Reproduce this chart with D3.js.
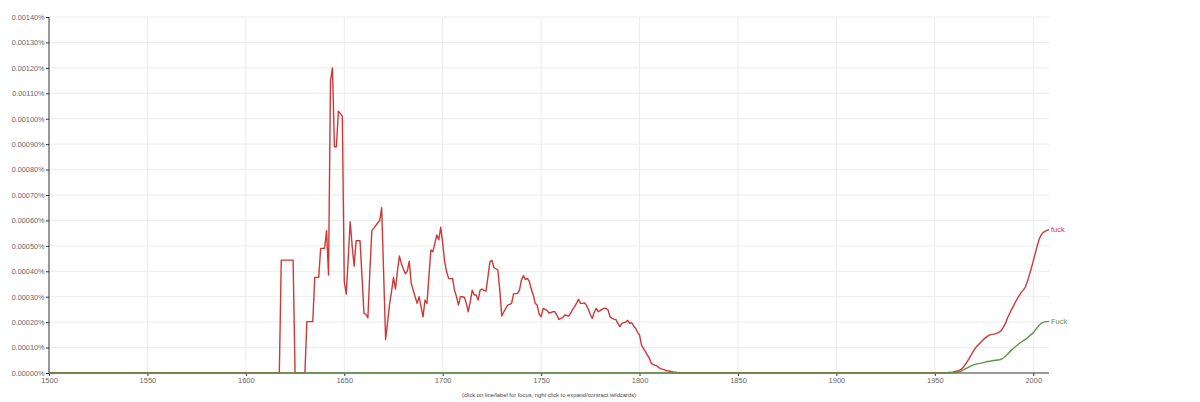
<!DOCTYPE html>
<html>
<head>
<meta charset="utf-8">
<script src="https://cdn.jsdelivr.net/npm/d3@7"></script>
<style>
  html, body { margin: 0; padding: 0; background: #fff; overflow: hidden; }
  svg { display: block; font-family: "Liberation Sans", Arial, sans-serif; }
  .grid line { stroke: #ececec; }
  .axis path, .axis line { stroke: #333; }
  .axis text { fill: #666; }
</style>
</head>
<body>
<svg width="1200" height="402"></svg>
<script>
// [year, percent] points, annual where the curve moves
const fuckPoints = [
  [1500, 0], [1617, 0], [1618, 0.000444], [1624, 0.000444], [1625, 0], [1630, 0],
  [1631, 0.000202], [1634, 0.000202], [1635, 0.000376], [1637, 0.000376], [1638, 0.00049],
  [1640, 0.00049], [1641, 0.00056], [1642, 0.000385], [1643, 0.00115], [1644, 0.0012],
  [1645, 0.00089], [1646, 0.00089], [1647, 0.00103], [1648, 0.00102], [1649, 0.00101],
  [1650, 0.00036], [1651, 0.00031], [1652, 0.00045], [1653, 0.000595], [1654, 0.0005],
  [1655, 0.00042], [1656, 0.00052], [1657, 0.00052], [1658, 0.00052], [1659, 0.00038],
  [1660, 0.000235], [1661, 0.00023], [1662, 0.000217], [1663, 0.0004], [1664, 0.00056],
  [1665, 0.00057], [1666, 0.00058], [1667, 0.00059], [1668, 0.0006], [1669, 0.00065],
  [1670, 0.00039], [1671, 0.000132], [1672, 0.0002], [1673, 0.00027], [1674, 0.00032],
  [1675, 0.000376], [1676, 0.00033], [1677, 0.0004], [1678, 0.00046], [1679, 0.00043],
  [1680, 0.00041], [1681, 0.00039], [1682, 0.0004], [1683, 0.00044], [1684, 0.000353],
  [1685, 0.000326], [1686, 0.0003], [1687, 0.000274], [1688, 0.0003], [1689, 0.00026],
  [1690, 0.000221], [1691, 0.000287], [1692, 0.000274], [1693, 0.00038], [1694, 0.000484],
  [1695, 0.000477], [1696, 0.00051], [1697, 0.000543], [1698, 0.000524], [1699, 0.000573],
  [1700, 0.00051], [1701, 0.000438], [1702, 0.000398], [1703, 0.000372], [1704, 0.00037],
  [1705, 0.000372], [1706, 0.000326], [1707, 0.0003], [1708, 0.000267], [1709, 0.0003],
  [1710, 0.0003], [1711, 0.000298], [1712, 0.000274], [1713, 0.000241], [1714, 0.00028],
  [1715, 0.000326], [1716, 0.000307], [1717, 0.000307], [1718, 0.000287], [1719, 0.000326],
  [1720, 0.00033], [1721, 0.000325], [1722, 0.000322], [1723, 0.000379], [1724, 0.000438],
  [1725, 0.000443], [1726, 0.000415], [1727, 0.00041], [1728, 0.000405], [1729, 0.000326],
  [1730, 0.000224], [1731, 0.00024], [1732, 0.000254], [1733, 0.000267], [1734, 0.00027],
  [1735, 0.000274], [1736, 0.000311], [1737, 0.000312], [1738, 0.000313], [1739, 0.000326],
  [1740, 0.000366], [1741, 0.000383], [1742, 0.000368], [1743, 0.000372], [1744, 0.00036],
  [1745, 0.00033], [1746, 0.000307], [1747, 0.000274], [1748, 0.000267], [1749, 0.000232],
  [1750, 0.000221], [1751, 0.000254], [1752, 0.00025], [1753, 0.000246], [1754, 0.000236],
  [1755, 0.000238], [1756, 0.000241], [1757, 0.000241], [1758, 0.000228], [1759, 0.000211],
  [1760, 0.000215], [1761, 0.000218], [1762, 0.000228], [1763, 0.000226], [1764, 0.000224],
  [1765, 0.000235], [1766, 0.00025], [1767, 0.000261], [1768, 0.000275], [1769, 0.00029],
  [1770, 0.000274], [1771, 0.000274], [1772, 0.000276], [1773, 0.000267], [1774, 0.00025],
  [1775, 0.00023], [1776, 0.000215], [1777, 0.00024], [1778, 0.000254], [1779, 0.000241],
  [1780, 0.000245], [1781, 0.00025], [1782, 0.000254], [1783, 0.000255], [1784, 0.000248],
  [1785, 0.000221], [1786, 0.000215], [1787, 0.000212], [1788, 0.00021], [1789, 0.000195],
  [1790, 0.000182], [1791, 0.000195], [1792, 0.000198], [1793, 0.0002], [1794, 0.000207],
  [1795, 0.000195], [1796, 0.000198], [1797, 0.000185], [1798, 0.000176], [1799, 0.00016],
  [1800, 0.000149], [1801, 0.00011], [1802, 0.000097], [1803, 0.000084], [1804, 0.00007],
  [1805, 0.000058], [1806, 0.000038], [1807, 0.000033], [1808, 0.00003], [1809, 0.000027],
  [1810, 0.00002], [1811, 0.000016], [1812, 0.000014], [1813, 0.000011], [1814, 0.000009],
  [1815, 0.000008], [1816, 0.000006], [1817, 0.000004], [1818, 0.000003], [1819, 0.000002],
  [1820, 0.000001], [1825, 0], [1955, 0], [1956, 0.000001], [1957, 0.000002],
  [1958, 0.000002], [1959, 0.000003], [1960, 0.000005], [1961, 0.000007], [1962, 0.000009],
  [1963, 0.000012], [1964, 0.000019], [1965, 0.000028], [1966, 0.00004], [1967, 0.000052],
  [1968, 0.000064], [1969, 0.000078], [1970, 0.000091], [1971, 0.000102], [1972, 0.00011],
  [1973, 0.000118], [1974, 0.000126], [1975, 0.000134], [1976, 0.00014], [1977, 0.000146],
  [1978, 0.00015], [1979, 0.000152], [1980, 0.000153], [1981, 0.000155], [1982, 0.000158],
  [1983, 0.000162], [1984, 0.00017], [1985, 0.000182], [1986, 0.000198], [1987, 0.000218],
  [1988, 0.000234], [1989, 0.00025], [1990, 0.000264], [1991, 0.00028], [1992, 0.000294],
  [1993, 0.000306], [1994, 0.000318], [1995, 0.000327], [1996, 0.000338], [1997, 0.00036],
  [1998, 0.000385], [1999, 0.000412], [2000, 0.00044], [2001, 0.00047], [2002, 0.0005],
  [2003, 0.000526], [2004, 0.000543], [2005, 0.000552], [2006, 0.000557], [2007, 0.000561],
  [2008, 0.000564]
];

const FuckPoints = [
  [1500, 0], [1955, 0], [1958, 0.000001], [1960, 0.000002], [1961, 0.000003],
  [1962, 0.000004], [1963, 0.000005], [1964, 0.00001], [1965, 0.000014], [1966, 0.000018],
  [1967, 0.000022], [1968, 0.000026], [1969, 0.00003], [1970, 0.000033], [1971, 0.000035],
  [1972, 0.000037], [1973, 0.000038], [1974, 0.00004], [1975, 0.000042], [1976, 0.000044],
  [1977, 0.000045], [1978, 0.000046], [1979, 0.000048], [1980, 0.000049], [1981, 0.00005],
  [1982, 0.000051], [1983, 0.000052], [1984, 0.000055], [1985, 0.00006], [1986, 0.000067],
  [1987, 0.000075], [1988, 0.000083], [1989, 0.00009], [1990, 0.000097], [1991, 0.000104],
  [1992, 0.00011], [1993, 0.000117], [1994, 0.000122], [1995, 0.000127], [1996, 0.000132],
  [1997, 0.000138], [1998, 0.000145], [1999, 0.000152], [2000, 0.000158], [2001, 0.000168],
  [2002, 0.000178], [2003, 0.000188], [2004, 0.000195], [2005, 0.000199], [2006, 0.000201],
  [2007, 0.000202], [2008, 0.000203]
];

const seriesNames = ['fuck', 'Fuck'];
const seriesColors = ['#cf3838', '#62924a'];
const yearTicks = [1500, 1550, 1600, 1650, 1700, 1750, 1800, 1850, 1900, 1950, 2000];
const valueTicks = d3.range(0, 15).map(i => i * 0.0001);
const footer = '(click on line/label for focus, right click to expand/contract wildcards)';

const series = [fuckPoints, FuckPoints].map((pts, i) => ({
  name: seriesNames[i], color: seriesColors[i], points: pts
}));

const margin = { left: 49, right: 151, top: 17, bottom: 29 };
const svg = d3.select('svg');
const width = +svg.attr('width');
const height = +svg.attr('height');
const innerWidth = width - margin.left - margin.right;
const innerHeight = height - margin.top - margin.bottom;

const x = d3.scaleLinear().domain([1500, 2008]).range([0, innerWidth]);
const y = d3.scaleLinear().domain([0, 0.0014]).range([innerHeight, 0]);

const g = svg.append('g')
    .attr('transform', `translate(${margin.left},${margin.top})`);

// gridlines
const grid = g.append('g').attr('class', 'grid');
grid.selectAll('line.h').data(valueTicks.slice(1))
  .enter().append('line')
    .attr('class', 'h')
    .attr('x1', 0).attr('x2', innerWidth)
    .attr('y1', d => y(d)).attr('y2', d => y(d));
grid.selectAll('line.v').data(yearTicks.slice(1))
  .enter().append('line')
    .attr('class', 'v')
    .attr('x1', d => x(d)).attr('x2', d => x(d))
    .attr('y1', 0).attr('y2', innerHeight);

const fontFamily = '"Liberation Sans", Arial, sans-serif';

g.append('g').attr('class', 'axis')
    .call(d3.axisLeft(y).tickValues(valueTicks).tickSize(3).tickPadding(1.5)
      .tickFormat(d => d3.format('.5f')(d) + '%'))
    .attr('font-size', 7.3)
    .attr('font-family', fontFamily)
    .call(s => s.select('.domain').attr('d', `M0,${innerHeight}V0`));

g.append('g').attr('class', 'axis')
    .attr('transform', `translate(0,${innerHeight})`)
    .call(d3.axisBottom(x).tickValues(yearTicks).tickSize(3).tickPadding(2)
      .tickFormat(d3.format('d')))
    .attr('font-size', 7.5)
    .attr('font-family', fontFamily)
    .call(s => s.select('.domain').attr('d', `M0,0H${innerWidth}`));

const line = d3.line().x(d => x(d[0])).y(d => y(d[1]));

g.selectAll('path.series').data(series)
  .enter().append('path')
    .attr('class', 'series')
    .attr('fill', 'none')
    .attr('stroke', d => d.color)
    .attr('stroke-width', 1.4)
    .attr('stroke-linejoin', 'round')
    .attr('d', d => line(d.points));

g.selectAll('text.label').data(series)
  .enter().append('text')
    .attr('class', 'label')
    .attr('x', d => x(d.points[d.points.length - 1][0]) + 2)
    .attr('y', d => y(d.points[d.points.length - 1][1]))
    .attr('dy', '0.35em')
    .attr('fill', d => d.color)
    .attr('font-size', 7.5)
    .text(d => d.name);

svg.append('text')
    .attr('x', margin.left + innerWidth / 2)
    .attr('y', 397)
    .attr('text-anchor', 'middle')
    .attr('fill', '#444')
    .attr('font-size', 5.8)
    .text(footer);
</script>
</body>
</html>
